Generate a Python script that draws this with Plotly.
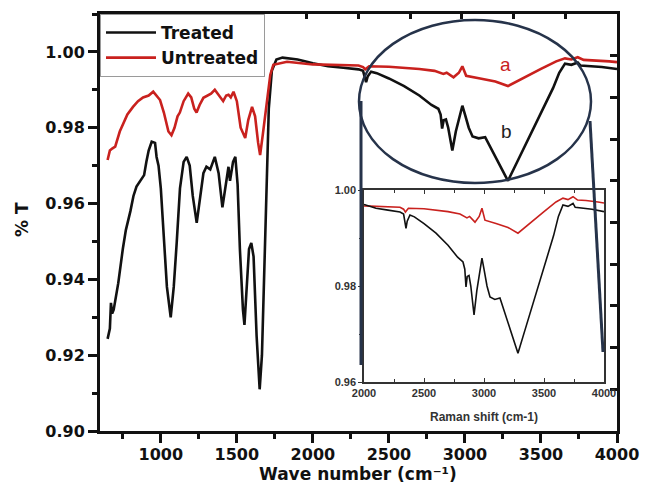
import plotly.graph_objects as go

# ---- data ----
treated_x = [650, 665, 672, 680, 690, 720, 750, 770, 800, 820, 840, 870, 890, 905, 920, 940, 962, 972, 985,
             1000, 1020, 1040, 1065, 1085, 1105, 1126, 1150, 1170, 1190, 1210, 1236, 1255, 1280, 1300, 1325,
             1355, 1380, 1405, 1425, 1445, 1455, 1475, 1490, 1505, 1520, 1540, 1550, 1565, 1580, 1595, 1610,
             1630, 1650, 1665, 1680, 1695, 1710, 1730, 1760, 1800, 1900, 2000, 2100, 2200, 2300, 2330, 2340,
             2350, 2360, 2383, 2420, 2500, 2600, 2700, 2780, 2825, 2840, 2850, 2860, 2875, 2890, 2917, 2940,
             2965, 2983, 3000, 3025, 3050, 3090, 3133, 3180, 3230, 3283, 3340, 3400, 3460, 3520, 3580, 3620,
             3658, 3700, 3742, 3760, 3800, 3900, 4000]
treated_y = [0.9243, 0.9270, 0.9338, 0.9310, 0.9320, 0.9390, 0.9480, 0.9530, 0.9580, 0.9620, 0.9645, 0.9665,
             0.9675, 0.9710, 0.9740, 0.9763, 0.9760, 0.9723, 0.9700, 0.9640, 0.9500, 0.9380, 0.9300, 0.9380,
             0.9500, 0.9640, 0.9710, 0.9723, 0.9700, 0.9620, 0.9549, 0.9600, 0.9680, 0.9697, 0.9690, 0.9723,
             0.9680, 0.9590, 0.9650, 0.9697, 0.9660, 0.9710, 0.9723, 0.9650, 0.9480, 0.9320, 0.9280, 0.9380,
             0.9480, 0.9496, 0.9460, 0.9250, 0.9110, 0.9200, 0.9400, 0.9650, 0.9850, 0.9950, 0.9980, 0.9985,
             0.9980, 0.9970, 0.9962, 0.9958, 0.9954, 0.9950, 0.9930, 0.9920, 0.9935, 0.9948, 0.9944, 0.9930,
             0.9910, 0.9885, 0.9860, 0.9850, 0.9835, 0.9798, 0.9820, 0.9822, 0.9800, 0.9740, 0.9790, 0.9830,
             0.9858, 0.9835, 0.9800, 0.9777, 0.9772, 0.9775, 0.9740, 0.9700, 0.9660, 0.9707, 0.9756, 0.9806,
             0.9855, 0.9905, 0.9945, 0.9969, 0.9966, 0.9972, 0.9964, 0.9963, 0.9960, 0.9955]

untreated_x = [650, 665, 680, 700, 730, 750, 780, 817, 850, 883, 920, 950, 970, 995, 1020, 1050, 1070, 1090,
               1110, 1125, 1150, 1180, 1200, 1220, 1235, 1255, 1280, 1310, 1330, 1355, 1380, 1410, 1430, 1445,
               1460, 1478, 1500, 1525, 1555, 1575, 1600, 1620, 1640, 1653, 1670, 1697, 1720, 1740, 1830, 2000,
               2200, 2300, 2330, 2345, 2370, 2500, 2700, 2800, 2858, 2880, 2925, 2960, 2983, 3008, 3100, 3200,
               3283, 3400, 3500, 3600, 3658, 3700, 3742, 3780, 3850, 3950, 4000]
untreated_y = [0.9715, 0.9740, 0.9745, 0.9750, 0.9790, 0.9810, 0.9835, 0.9855, 0.9870, 0.9880, 0.9885, 0.9895,
               0.9885, 0.9873, 0.9840, 0.9790, 0.9780, 0.9800, 0.9830, 0.9840, 0.9870, 0.9890, 0.9880, 0.9850,
               0.9840, 0.9860, 0.9879, 0.9885, 0.9890, 0.9900, 0.9885, 0.9870, 0.9885, 0.9887, 0.9880, 0.9895,
               0.9870, 0.9800, 0.9773, 0.9820, 0.9855, 0.9830, 0.9760, 0.9728, 0.9780, 0.9870, 0.9940, 0.9966,
               0.9974, 0.9967, 0.9966, 0.9964, 0.9960, 0.9954, 0.9962, 0.9961, 0.9955, 0.9950, 0.9942, 0.9945,
               0.9933, 0.9945, 0.9962, 0.9937, 0.9930, 0.9922, 0.9910, 0.9935, 0.9955, 0.9975, 0.9983, 0.9980,
               0.9986, 0.9979, 0.9978, 0.9975, 0.9973]

main_xticks = [1000, 1500, 2000, 2500, 3000, 3500, 4000]
main_yticks = [0.90, 0.92, 0.94, 0.96, 0.98, 1.00]
inset_xticks = [2000, 2500, 3000, 3500, 4000]
inset_yticks = [0.96, 0.98, 1.00]

BLACK = "#111111"
RED = "#c9211e"
NAVY = "#26334a"
MAINFONT = "DejaVu Sans"

fig = go.Figure()
fig.add_trace(go.Scatter(x=treated_x, y=treated_y, mode="lines", name="Treated",
                         line=dict(color=BLACK, width=2.6), xaxis="x", yaxis="y"))
fig.add_trace(go.Scatter(x=untreated_x, y=untreated_y, mode="lines", name="Untreated",
                         line=dict(color=RED, width=2.6), xaxis="x", yaxis="y"))
# inset
fig.add_trace(go.Scatter(x=untreated_x, y=untreated_y, mode="lines", showlegend=False,
                         line=dict(color=RED, width=1.6), xaxis="x3", yaxis="y4"))
fig.add_trace(go.Scatter(x=treated_x, y=treated_y, mode="lines", showlegend=False,
                         line=dict(color=BLACK, width=1.6), xaxis="x3", yaxis="y4"))

# plot area on screen: x 100-617, y 14-431 (page body adds an 8px offset)
def px(x):
    return (x - 100) / 517.0

def py(y):
    return (431 - y) / 417.0

fig.update_layout(
    width=654, height=483,
    autosize=False,
    margin=dict(l=92, r=45, t=6, b=60, pad=0, autoexpand=False),
    paper_bgcolor="white", plot_bgcolor="white",
    showlegend=True,
    legend=dict(x=0, y=1, xanchor="left", yanchor="top", bgcolor="white",
                bordercolor="#9a9a9a", borderwidth=1, itemwidth=50,
                font=dict(family=MAINFONT, size=17, color="#111", weight="bold")),
    xaxis=dict(range=[600, 4000], tickvals=main_xticks, ticks="outside", ticklen=9, tickwidth=2.5,
               tickcolor="#111", showline=True, linewidth=3, linecolor="#111", mirror=True,
               showgrid=False, zeroline=False, automargin=False, ticklabelstandoff=-2,
               minor=dict(dtick=250, tick0=750, ticks="outside", ticklen=5, tickwidth=2.5, tickcolor="#111"),
               tickfont=dict(family=MAINFONT, size=16, color="#111", weight="bold")),
    yaxis=dict(range=[0.90, 1.01], tickvals=main_yticks, tickformat=".2f", ticks="outside", ticklen=9,
               tickwidth=2.5, tickcolor="#111", showline=True, linewidth=3, linecolor="#111", mirror=True,
               showgrid=False, zeroline=False, automargin=False,
               minor=dict(dtick=0.01, tick0=0.90, ticks="outside", ticklen=5, tickwidth=2.5, tickcolor="#111"),
               tickfont=dict(family=MAINFONT, size=16, color="#111", weight="bold")),
    xaxis2=dict(overlaying="x", anchor="y", side="top", range=[0, 10], dtick=1, tick0=0,
                ticks="inside", ticklen=5, tickwidth=2.5, tickcolor="#111", automargin=False,
                showticklabels=False, showgrid=False, zeroline=False, showline=False),
    yaxis3=dict(overlaying="y", anchor="x", side="right", range=[0, 10], dtick=1, tick0=0,
                ticks="inside", ticklen=7, tickwidth=2.5, tickcolor="#111", automargin=False,
                showticklabels=False, showgrid=False, zeroline=False, showline=False),
    xaxis3=dict(domain=[px(364), px(604)], anchor="y4", range=[2000, 4000], tickvals=inset_xticks,
                ticks="inside", ticklen=4, tickwidth=1.2, tickcolor="#333", mirror="ticks",
                showline=True, linewidth=1.5, linecolor="#333", showgrid=False, zeroline=False,
                automargin=False,
                minor=dict(dtick=250, tick0=2000, ticks="inside", ticklen=3, tickwidth=1.2, tickcolor="#333"),
                tickfont=dict(family="Liberation Sans", size=11, color="#333", weight="bold")),
    yaxis4=dict(domain=[py(382), py(190)], anchor="x3", range=[0.96, 1.00], tickvals=inset_yticks,
                tickformat=".2f", ticks="outside", ticklen=4, tickwidth=1.2, tickcolor="#333",
                showline=True, linewidth=1.5, linecolor="#333", mirror=True, showgrid=False, zeroline=False,
                automargin=False,
                minor=dict(dtick=0.01, tick0=0.96, ticks="outside", ticklen=3, tickwidth=1.2, tickcolor="#333"),
                tickfont=dict(family="Liberation Sans", size=11, color="#333", weight="bold")),
)

# invisible traces so the mirrored tick axes are drawn
fig.add_trace(go.Scatter(x=[0], y=[0.95], mode="markers", marker=dict(opacity=0), showlegend=False,
                         hoverinfo="skip", xaxis="x2", yaxis="y"))
fig.add_trace(go.Scatter(x=[2000], y=[5], mode="markers", marker=dict(opacity=0), showlegend=False,
                         hoverinfo="skip", xaxis="x", yaxis="y3"))

# axis titles
fig.add_annotation(x=px(358), y=py(474), xref="paper", yref="paper", text="Wave number (cm⁻¹)",
                   showarrow=False, xanchor="center", yanchor="middle",
                   font=dict(family=MAINFONT, size=17, color="#111", weight="bold"))
fig.add_annotation(x=px(22), y=py(220), xref="paper", yref="paper", text="% T", textangle=-90,
                   showarrow=False, xanchor="center", yanchor="middle",
                   font=dict(family=MAINFONT, size=17, color="#111", weight="bold"))
fig.add_annotation(x=px(484), y=py(417), xref="paper", yref="paper", text="Raman shift (cm-1)",
                   showarrow=False, xanchor="center", yanchor="middle",
                   font=dict(family="Liberation Sans", size=12, color="#333", weight="bold"))

# ellipse highlighting the 2000-4000 region and connector lines to the inset
fig.add_shape(type="circle", xref="paper", yref="paper", x0=px(359), x1=px(591), y0=py(183), y1=py(20),
              line=dict(color=NAVY, width=2.5))
fig.add_shape(type="line", xref="paper", yref="paper", x0=px(361), x1=px(361), y0=py(101), y1=py(365),
              line=dict(color=NAVY, width=3))
fig.add_shape(type="line", xref="paper", yref="paper", x0=px(590), x1=px(603), y0=py(121), y1=py(352),
              line=dict(color=NAVY, width=3))

fig.add_annotation(x=px(505), y=py(64), xref="paper", yref="paper", text="a", showarrow=False,
                   xanchor="center", yanchor="middle",
                   font=dict(family="Liberation Sans", size=19, color=RED))
fig.add_annotation(x=px(506), y=py(131), xref="paper", yref="paper", text="b", showarrow=False,
                   xanchor="center", yanchor="middle",
                   font=dict(family="Liberation Sans", size=19, color="#222"))

fig.write_html("out.html")
